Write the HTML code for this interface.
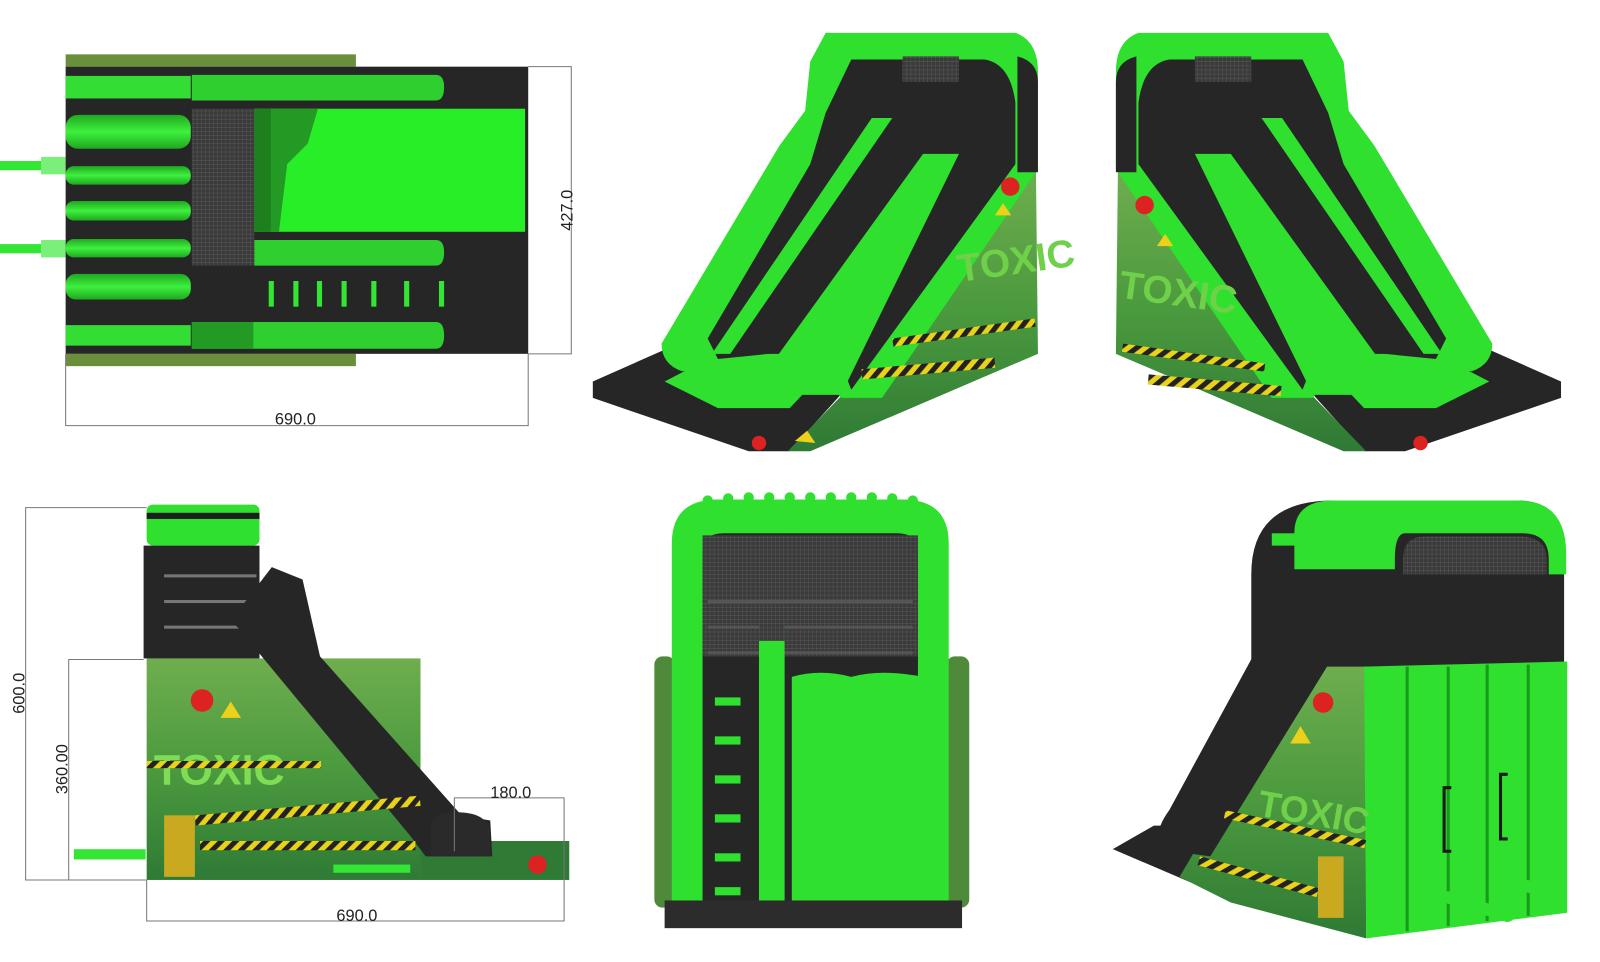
<!DOCTYPE html>
<html><head><meta charset="utf-8"><style>
html,body{margin:0;padding:0;background:#fff;}
svg{display:block;}
text{font-family:"Liberation Sans",sans-serif;}
</style></head><body>
<svg width="1600" height="962" viewBox="0 0 1560 938" preserveAspectRatio="none" xmlns="http://www.w3.org/2000/svg">
<defs>
<pattern id="haz" width="10" height="10" patternUnits="userSpaceOnUse" patternTransform="rotate(45)">
<rect width="10" height="10" fill="#e8d21a"/><rect width="5" height="10" fill="#222"/></pattern>
<pattern id="mesh" width="4" height="4" patternUnits="userSpaceOnUse">
<rect width="4" height="4" fill="#3a3a3a"/><path d="M0 0H4M0 0V4" stroke="#666" stroke-width="0.6"/></pattern>
<linearGradient id="ban" x1="0" y1="0" x2="0" y2="1">
<stop offset="0" stop-color="#6fae4f"/><stop offset="0.5" stop-color="#4b9a3e"/><stop offset="1" stop-color="#2f7a35"/></linearGradient>
<linearGradient id="gv" x1="0" y1="0" x2="0" y2="1">
<stop offset="0" stop-color="#1fa81f"/><stop offset="0.5" stop-color="#3ef03e"/><stop offset="1" stop-color="#1fa81f"/></linearGradient>
</defs>

<!-- ============ TOP VIEW ============ -->
<g>
<rect x="64" y="53" width="283" height="12" fill="#6a8f3a"/>
<rect x="64" y="345" width="283" height="12" fill="#6a8f3a"/>
<rect x="0" y="157" width="64" height="9" fill="#33e633"/>
<rect x="0" y="238" width="64" height="9" fill="#33e633"/>
<rect x="40" y="153" width="24" height="17" fill="#7af07a"/>
<rect x="40" y="234" width="24" height="17" fill="#7af07a"/>
<rect x="64" y="65" width="451" height="280" fill="#262626"/>
<rect x="64" y="74" width="122" height="22" fill="#33dd33"/>
<rect x="64" y="112" width="122" height="33" rx="12" fill="url(#gv)"/>
<rect x="64" y="162" width="122" height="18" rx="8" fill="url(#gv)"/>
<rect x="64" y="196" width="122" height="19" rx="8" fill="url(#gv)"/>
<rect x="64" y="233" width="122" height="18" rx="8" fill="url(#gv)"/>
<rect x="64" y="267" width="122" height="25" rx="10" fill="url(#gv)"/>
<rect x="64" y="317" width="122" height="20" fill="#33dd33"/>
<rect x="187" y="106" width="61" height="153" fill="url(#mesh)"/>
<path d="M187 73H425Q433 73 433 85Q433 98 425 98H187Z" fill="#2fcf2f"/>
<rect x="248" y="106" width="264" height="120" fill="#28ee28"/>
<path d="M248 106H310L300 140L280 160L272 226H248Z" fill="#239a23"/>
<rect x="248" y="106" width="16" height="120" fill="#1e7f1e"/>
<path d="M248 234H425Q433 234 433 246Q433 259 425 259H248Z" fill="#2fcf2f"/>
<path d="M187 314H425Q433 314 433 327Q433 340 425 340H187Z" fill="#2fcf2f"/>
<rect x="187" y="314" width="60" height="26" fill="#239a23"/>
<g fill="#33e633"><rect x="262" y="274" width="5" height="25"/><rect x="286" y="274" width="5" height="25"/><rect x="309" y="274" width="5" height="25"/><rect x="333" y="274" width="5" height="25"/><rect x="362" y="274" width="5" height="25"/><rect x="394" y="274" width="5" height="25"/><rect x="428" y="274" width="5" height="25"/></g>
<g stroke="#777" stroke-width="1" fill="none">
<path d="M515 65H557V345H515"/><path d="M64 345V415H515V345"/></g>
<text x="288" y="414" font-size="16" text-anchor="middle" fill="#222">690.0</text>
<text transform="translate(558,205) rotate(-90)" font-size="16" text-anchor="middle" fill="#222">427.0</text>
</g>

<!-- ============ TOP MIDDLE 3D ============ -->
<g>
<path d="M578 372L650 340L860 340L770 440L730 440L578 388Z" fill="#262626"/>
<path d="M648 372L700 345L820 345L770 398L700 398Z" fill="#2fe02f"/>
<path d="M768 440L860 345L1010 163L1012 345L790 440Z" fill="url(#ban)"/>
<path d="M805 32L990 32Q1012 40 1012 70L1012 165L860 388L820 388L800 360Q790 345 770 345L745 330Q720 340 700 360L665 362Q645 355 645 335L760 142L785 108L790 60Z" fill="#2fe02f"/>
<path d="M830 58L960 58Q985 62 990 100L990 160L830 380Q815 340 800 340L700 350L690 330L790 160L805 110Z" fill="#262626"/>
<path d="M992 55Q1012 60 1012 80L1012 168L992 168Z" fill="#262626"/>
<path d="M850 115L870 115L712 345L694 345Z" fill="#2fe02f"/>
<path d="M900 150L935 150L820 385L760 385L745 365Z" fill="#2fe02f"/>
<rect x="880" y="55" width="55" height="25" fill="url(#mesh)"/>
</g>
<g font-weight="bold">
<text x="935" y="275" font-size="38" fill="#6fd04a" transform="rotate(-8 935 275)">TOXIC</text>
<rect x="870" y="330" width="140" height="8" fill="url(#haz)" transform="rotate(-8 870 330)"/>
<rect x="840" y="360" width="130" height="10" fill="url(#haz)" transform="rotate(-5 840 360)"/>
<circle cx="985" cy="182" r="9" fill="#d22"/>
<path d="M970 210L978 198L986 210Z" fill="#ecd11b"/>
<path d="M775 430L787 420L795 432Z" fill="#ecd11b"/>
<circle cx="740" cy="432" r="7" fill="#d22"/>
</g>

<!-- ============ TOP RIGHT 3D (mirror) ============ -->
<g transform="translate(2100,0) scale(-1,1)">
<path d="M578 372L650 340L860 340L770 440L730 440L578 388Z" fill="#262626"/>
<path d="M648 372L700 345L820 345L770 398L700 398Z" fill="#2fe02f"/>
<path d="M768 440L860 345L1010 163L1012 345L790 440Z" fill="url(#ban)"/>
<path d="M805 32L990 32Q1012 40 1012 70L1012 165L860 388L820 388L800 360Q790 345 770 345L745 330Q720 340 700 360L665 362Q645 355 645 335L760 142L785 108L790 60Z" fill="#2fe02f"/>
<path d="M830 58L960 58Q985 62 990 100L990 160L830 380Q815 340 800 340L700 350L690 330L790 160L805 110Z" fill="#262626"/>
<path d="M992 55Q1012 60 1012 80L1012 168L992 168Z" fill="#262626"/>
<path d="M850 115L870 115L712 345L694 345Z" fill="#2fe02f"/>
<path d="M900 150L935 150L820 385L760 385L745 365Z" fill="#2fe02f"/>
<rect x="880" y="55" width="55" height="25" fill="url(#mesh)"/>
</g>
<g font-weight="bold">
<text x="1090" y="290" font-size="38" fill="#6fd04a" transform="rotate(8 1090 290)">TOXIC</text>
<rect x="1095" y="335" width="140" height="8" fill="url(#haz)" transform="rotate(8 1095 335)"/>
<rect x="1120" y="365" width="130" height="10" fill="url(#haz)" transform="rotate(5 1120 365)"/>
<circle cx="1116" cy="200" r="9" fill="#d22"/>
<path d="M1128 240L1136 228L1144 240Z" fill="#ecd11b"/>
<circle cx="1385" cy="432" r="7" fill="#d22"/>
</g>

<!-- ============ BOTTOM LEFT SIDE VIEW ============ -->
<g>
<rect x="72" y="828" width="70" height="10" fill="#33e633"/>
<rect x="143" y="642" width="267" height="216" fill="url(#ban)"/>
<rect x="410" y="820" width="145" height="38" fill="#2f7a35"/>
<rect x="143" y="492" width="110" height="40" rx="6" fill="#2fe02f"/>
<rect x="143" y="500" width="110" height="6" fill="#1e1e1e"/>
<rect x="140" y="532" width="113" height="110" fill="#262626"/>
<g fill="#777"><rect x="160" y="560" width="90" height="3"/><rect x="160" y="585" width="90" height="3"/><rect x="160" y="610" width="90" height="3"/></g>
<path d="M225 605L265 553L295 565L312 640L450 795L478 800L480 835L415 835L400 815L232 612Z" fill="#262626"/>
<path d="M420 835V808Q420 792 445 792Q478 792 478 815V835Z" fill="#2a2a2a"/>
<text x="150" y="765" font-size="42" font-weight="bold" fill="#7fdc55">TOXIC</text>
<rect x="143" y="742" width="170" height="7" fill="url(#haz)"/>
<rect x="190" y="795" width="220" height="10" fill="url(#haz)" transform="rotate(-5 190 795)"/>
<rect x="195" y="820" width="210" height="9" fill="url(#haz)"/>
<rect x="160" y="795" width="30" height="60" fill="#c9a91f"/>
<rect x="325" y="843" width="75" height="8" fill="#33e633"/>
<circle cx="197" cy="683" r="11" fill="#d22"/>
<path d="M215 700L225 684L235 700Z" fill="#ecd11b"/>
<circle cx="524" cy="843" r="9" fill="#d22"/>
<g stroke="#777" stroke-width="1" fill="none">
<path d="M143 495H25V858H143"/><path d="M140 643H67V858"/>
<path d="M443 830V778H550V858"/><path d="M143 858V898H550V858"/></g>
<text transform="translate(24,676) rotate(-90)" font-size="16" text-anchor="middle" fill="#222">600.0</text>
<text transform="translate(66,750) rotate(-90)" font-size="16" text-anchor="middle" fill="#222">360.00</text>
<text x="498" y="778" font-size="16" text-anchor="middle" fill="#222">180.0</text>
<text x="348" y="898" font-size="16" text-anchor="middle" fill="#222">690.0</text>
</g>

<!-- ============ BOTTOM MIDDLE FRONT VIEW ============ -->
<g>
<rect x="638" y="640" width="20" height="245" rx="8" fill="#4f8a3a"/>
<rect x="923" y="640" width="22" height="245" rx="8" fill="#4f8a3a"/>
<path d="M655 880V530Q655 487 700 487H880Q925 487 925 530V880Z" fill="#2fe02f"/>
<path d="M685 880V540Q685 520 705 520H875Q895 520 895 540V880Z" fill="#262626"/>
<rect x="685" y="522" width="210" height="118" fill="url(#mesh)"/>
<g fill="#555"><rect x="690" y="585" width="200" height="3"/><rect x="690" y="610" width="200" height="3"/><rect x="690" y="635" width="200" height="3"/></g>
<rect x="740" y="605" width="25" height="295" fill="#2fe02f"/>
<rect x="740" y="605" width="25" height="20" fill="url(#mesh)"/>
<path d="M772 885V660Q800 652 830 660Q860 652 900 660V885Z" fill="#2fe02f"/>
<g fill="#2fe02f"><rect x="697" y="680" width="25" height="8"/><rect x="697" y="718" width="25" height="8"/><rect x="697" y="756" width="25" height="8"/><rect x="697" y="794" width="25" height="8"/><rect x="697" y="832" width="25" height="8"/><rect x="697" y="865" width="25" height="8"/></g>
<rect x="648" y="878" width="290" height="27" fill="#2c2c2c"/>
<g fill="#2fe02f"><circle cx="690" cy="488" r="5"/><circle cx="710" cy="486" r="5"/><circle cx="730" cy="485" r="5"/><circle cx="750" cy="485" r="5"/><circle cx="770" cy="485" r="5"/><circle cx="790" cy="485" r="5"/><circle cx="810" cy="485" r="5"/><circle cx="830" cy="485" r="5"/><circle cx="850" cy="485" r="5"/><circle cx="870" cy="486" r="5"/><circle cx="890" cy="488" r="5"/></g>
</g>

<!-- ============ BOTTOM RIGHT 3D ============ -->
<g>
<path d="M1085 828L1125 805L1200 805L1170 860L1160 860Z" fill="#262626"/>
<path d="M1150 855L1230 720L1280 650L1332 645L1332 915L1200 880Z" fill="url(#ban)"/>
<path d="M1220 650V560Q1220 488 1300 488H1480Q1525 488 1525 540V650Z" fill="#262626"/>
<path d="M1262 555V520Q1262 488 1300 488H1480Q1527 488 1527 540V560H1510V545Q1510 520 1485 520H1370Q1360 520 1360 545V555Z" fill="#2fe02f"/>
<rect x="1240" y="520" width="25" height="12" fill="#2fe02f"/>
<path d="M1368 560V545Q1368 523 1390 523H1480Q1508 523 1508 545V560Z" fill="url(#mesh)"/>
<path d="M1265 560L1290 560L1300 640L1180 835L1130 828Q1125 810 1140 790Z" fill="#262626"/>
<path d="M1330 650L1528 645V890L1332 915Z" fill="#2fe02f"/>
<g stroke="#1a9a1a" stroke-width="3"><path d="M1372 650V908"/><path d="M1412 650V903"/><path d="M1450 648V898"/><path d="M1490 648V893"/></g>
<g stroke="#1a1a1a" stroke-width="3" fill="none"><path d="M1415 768H1408V830H1415"/><path d="M1470 755H1463V818H1470"/></g>
<g stroke="#2fe02f" stroke-width="12" stroke-linecap="round"><path d="M1412 875L1470 893"/><path d="M1465 858L1520 872"/></g>
<text x="1225" y="795" font-size="36" font-weight="bold" fill="#6fd04a" transform="rotate(10 1225 795)">TOXIC</text>
<rect x="1195" y="790" width="140" height="8" fill="url(#haz)" transform="rotate(12 1195 790)"/>
<rect x="1170" y="835" width="120" height="9" fill="url(#haz)" transform="rotate(15 1170 835)"/>
<circle cx="1290" cy="685" r="10" fill="#d22"/>
<path d="M1258 725L1268 708L1278 725Z" fill="#ecd11b"/>
<rect x="1285" y="835" width="25" height="60" fill="#c9a91f"/>
</g>
</svg>
</body></html>
